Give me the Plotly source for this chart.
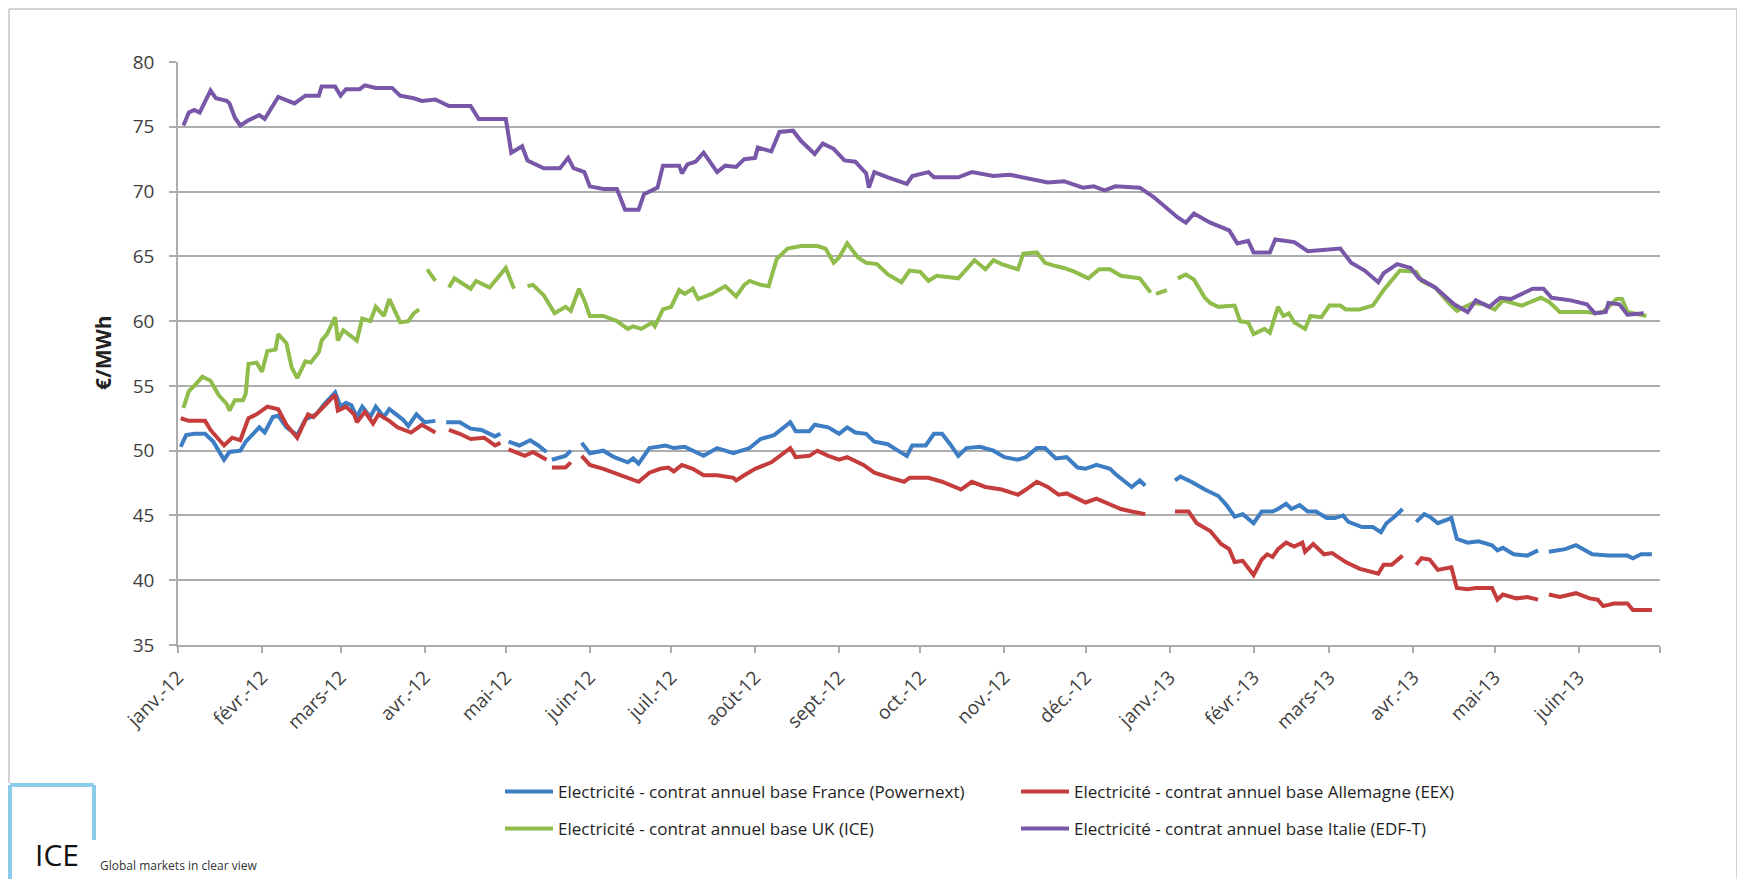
import pandas as pd
import plotly.graph_objects as go

# jours écoulés depuis le 1er janvier 2012 -> cotation en €/MWh (None = pas de cotation)
debut = pd.Timestamp('2012-01-01')

fr_jour = [1, 3, 6, 10, 13, 17, 19, 23, 25, 28, 30, 32, 35, 37, 40, 44, 47, 51, 54, 58,
           60, 62, 64, 66, 68, 71, 73, 76, 78, 83, 85, 88, 91, 95,
           97, 99, 104, 108, 112, 117, 119,
           120, 122, 126, 130, 133, 136,
           137, 138, 143, 145,
           147, 149, 152, 157, 161, 166, 168, 170, 174, 180, 183,
           187, 190, 194, 199, 205, 211, 215, 220, 226, 228,
           233, 235, 240, 244, 247, 250, 254, 257, 262, 265,
           269, 271, 276, 279, 282, 285, 288, 291, 296, 301,
           305, 310, 313, 317, 320, 324, 328, 332, 335, 339,
           344, 346, 352, 355, 357,
           362, 368, 370, 374, 379, 384, 387, 390, 393, 397,
           400, 404, 406, 409, 411, 414, 417, 420, 424, 427,
           430, 432, 437, 441, 444, 446, 449, 452,
           455, 457, 460, 462, 465, 470, 472, 476, 480, 485,
           487, 489, 493, 498, 502,
           504, 506, 512, 516, 522, 528, 535, 537, 540, 544]
fr_prix = [50.3, 51.2, 51.3, 51.3, 50.7, 49.3, 49.9, 50.0, 50.7, 51.3, 51.8, 51.4, 52.6, 52.7, 51.8, 51.2, 52.4, 52.8, 53.6, 54.5,
           53.4, 53.7, 53.5, 52.6, 53.4, 52.6, 53.4, 52.6, 53.2, 52.4, 51.9, 52.8, 52.2, 52.3,
           None, 52.2, 52.2, 51.7, 51.6, 51.1, 51.3,
           None, 50.7, 50.4, 50.8, 50.4, 49.9,
           None, 49.3, 49.6, 50.0,
           None, 50.6, 49.8, 50.0, 49.5, 49.1, 49.4, 49.0, 50.2, 50.4, 50.2,
           50.3, 50.0, 49.6, 50.2, 49.8, 50.2, 50.9, 51.2, 52.2, 51.5,
           51.5, 52.0, 51.8, 51.3, 51.8, 51.4, 51.3, 50.7, 50.5, 50.1,
           49.6, 50.4, 50.4, 51.3, 51.3, 50.5, 49.6, 50.2, 50.3, 50.0,
           49.5, 49.3, 49.5, 50.2, 50.2, 49.4, 49.5, 48.7, 48.6, 48.9,
           48.6, 48.2, 47.2, 47.7, 47.3,
           None, 47.7, 48.0, 47.6, 47.0, 46.5, 45.8, 44.9, 45.1, 44.4,
           45.3, 45.3, 45.5, 45.9, 45.5, 45.8, 45.3, 45.3, 44.8, 44.8,
           45.0, 44.5, 44.1, 44.1, 43.7, 44.4, 44.9, 45.5,
           None, 44.5, 45.1, 44.9, 44.4, 44.8, 43.2, 42.9, 43.0, 42.7,
           42.3, 42.5, 42.0, 41.9, 42.3,
           None, 42.2, 42.4, 42.7, 42.0, 41.9, 41.9, 41.7, 42.0, 42.0]

de_jour = [1, 4, 10, 12, 17, 20, 23, 26, 29, 33,
           37, 40, 44, 48, 50, 54, 58, 59, 62, 65,
           66, 69, 72, 74, 78, 81, 86, 90, 95,
           97, 100, 104, 108, 113, 117, 119,
           120, 122, 128, 131, 136,
           137, 138, 143, 145,
           147, 149, 152, 157, 161, 166, 170, 174, 178, 181,
           183, 186, 190, 194, 199, 205, 206, 209, 213, 219,
           226, 228, 233, 236, 240, 244, 247, 253, 257, 263,
           268, 270, 277, 282, 289, 293, 298, 304, 310, 313,
           317, 321, 325, 328, 332, 335, 339, 344, 348, 352, 357,
           362, 368, 373, 376, 381, 385, 388, 390, 393, 397,
           400, 402, 404, 406, 409, 412, 415, 416, 419, 423,
           426, 431, 436, 443, 445, 448, 452,
           455, 457, 459, 462, 465, 470, 472, 476, 479, 485,
           487, 489, 494, 498, 502,
           504, 506, 510, 516, 521, 524, 526, 530, 535, 537, 544]
de_prix = [52.5, 52.3, 52.3, 51.6, 50.4, 51.0, 50.8, 52.5, 52.8, 53.4,
           53.2, 52.0, 51.0, 52.8, 52.6, 53.5, 54.3, 53.1, 53.4, 52.8,
           52.2, 53.0, 52.1, 52.8, 52.3, 51.8, 51.4, 52.0, 51.4,
           None, 51.6, 51.3, 50.9, 51.0, 50.4, 50.6,
           None, 50.1, 49.6, 49.9, 49.3,
           None, 48.7, 48.7, 49.1,
           None, 49.6, 48.9, 48.6, 48.3, 47.9, 47.6, 48.3, 48.6, 48.7,
           48.4, 48.9, 48.6, 48.1, 48.1, 47.9, 47.7, 48.1, 48.6, 49.1,
           50.2, 49.5, 49.6, 50.0, 49.6, 49.3, 49.5, 48.9, 48.3, 47.9,
           47.6, 47.9, 47.9, 47.6, 47.0, 47.6, 47.2, 47.0, 46.6, 47.0,
           47.6, 47.2, 46.6, 46.7, 46.3, 46.0, 46.3, 45.9, 45.5, 45.3, 45.1,
           None, 45.3, 45.3, 44.4, 43.8, 42.8, 42.4, 41.4, 41.5, 40.4,
           41.6, 42.0, 41.8, 42.4, 42.9, 42.6, 42.9, 42.2, 42.8, 42.0,
           42.1, 41.4, 40.9, 40.5, 41.2, 41.2, 41.9,
           None, 41.2, 41.7, 41.6, 40.8, 41.0, 39.4, 39.3, 39.4, 39.4,
           38.5, 38.9, 38.6, 38.7, 38.5,
           None, 38.9, 38.7, 39.0, 38.6, 38.5, 38.0, 38.2, 38.2, 37.7, 37.7]

uk_jour = [2, 4, 6, 9, 12, 15, 18, 19, 21, 24,
           25, 26, 29, 31, 33, 36, 37, 40, 42, 44,
           47, 49, 52, 53, 55, 58, 59, 61, 66, 68,
           71, 73, 76, 78, 82, 85, 87, 89,
           91, 92, 95,
           97, 100, 102, 105, 108, 110, 113, 115, 117, 121, 124,
           126, 129, 131, 135, 139, 143, 145, 148, 150, 152, 157,
           162, 166, 168, 171, 175, 176, 179, 182, 185, 187,
           190, 192, 197, 202, 206, 209, 211, 215, 218, 221,
           225, 230, 236, 239, 242, 244, 247, 251, 254, 258,
           262, 267, 270, 274, 277, 280, 284, 288, 294, 298,
           301, 304, 310, 312, 317, 320, 323, 327, 331, 336,
           340, 344, 348, 351, 355, 359,
           360, 361, 365,
           367, 369, 372, 375, 379, 381, 384, 390, 392, 395,
           397, 401, 403, 406, 408, 410, 412, 416, 418, 422,
           425, 429, 431, 436, 441, 445, 449, 451, 457, 459,
           464, 469, 472, 478, 482, 486, 489, 496, 503, 506,
           510, 515, 520, 523, 526, 531, 533, 535, 542]
uk_prix = [53.3, 54.6, 55.0, 55.7, 55.4, 54.3, 53.6, 53.1, 53.9, 53.9,
           54.4, 56.7, 56.8, 56.1, 57.7, 57.8, 59.0, 58.3, 56.4, 55.6,
           56.9, 56.8, 57.6, 58.5, 59.0, 60.3, 58.5, 59.3, 58.5, 60.2,
           60.0, 61.1, 60.4, 61.7, 59.9, 60.0, 60.6, 60.9,
           None, 64.0, 63.1,
           None, 62.6, 63.3, 62.9, 62.5, 63.1, 62.8, 62.6, 63.1, 64.1, 62.5,
           None, 62.7, 62.8, 62.0, 60.6, 61.1, 60.8, 62.5, 61.6, 60.4, 60.4,
           60.0, 59.4, 59.6, 59.4, 59.9, 59.6, 60.9, 61.1, 62.4, 62.1,
           62.5, 61.7, 62.1, 62.7, 61.9, 62.8, 63.1, 62.8, 62.7, 64.8,
           65.6, 65.8, 65.8, 65.6, 64.5, 64.9, 66.0, 64.9, 64.5, 64.4,
           63.6, 63.0, 63.9, 63.8, 63.1, 63.5, 63.4, 63.3, 64.7, 64.0,
           64.7, 64.4, 64.0, 65.2, 65.3, 64.5, 64.3, 64.1, 63.8, 63.3,
           64.0, 64.0, 63.5, 63.4, 63.3, 62.2,
           None, 62.1, 62.4,
           None, 63.3, 63.6, 63.2, 61.8, 61.4, 61.1, 61.2, 60.0, 59.9,
           59.0, 59.4, 59.1, 61.1, 60.4, 60.6, 59.9, 59.4, 60.4, 60.3,
           61.2, 61.2, 60.9, 60.9, 61.2, 62.4, 63.4, 63.9, 63.8, 63.1,
           62.6, 61.4, 60.8, 61.4, 61.3, 60.9, 61.6, 61.2, 61.8, 61.5,
           60.7, 60.7, 60.7, 60.6, 60.7, 61.7, 61.7, 60.7, 60.4]

it_jour = [2, 4, 6, 8, 12, 14, 18, 19, 21, 23,
           26, 30, 32, 37, 43, 47, 52, 53, 58, 60,
           62, 67, 69, 73, 79, 82, 87, 90, 95, 100,
           108, 111, 121, 123, 127, 129, 135, 141, 144, 146,
           150, 152, 157, 162, 165, 170, 172, 177, 179, 185,
           186, 188, 191, 194, 199, 202, 206, 209, 213, 214,
           219, 222, 227, 230, 235, 238, 242, 246, 250, 254,
           255, 257, 262, 269, 271, 277, 279, 288, 293, 301,
           307, 312, 321, 327, 334, 338, 342, 346, 355, 360,
           369, 372, 375, 381, 388, 391, 395, 397, 403, 405,
           412, 417, 429, 433, 438, 443, 445, 450, 455, 458,
           464, 471, 476, 479, 484, 488, 492, 500, 504, 507,
           514, 520, 523, 527, 528, 532, 535, 541]
it_prix = [75.1, 76.1, 76.3, 76.1, 77.8, 77.2, 77.0, 76.8, 75.7, 75.1,
           75.5, 75.9, 75.6, 77.3, 76.8, 77.4, 77.4, 78.1, 78.1, 77.4,
           77.9, 77.9, 78.2, 78.0, 78.0, 77.4, 77.2, 77.0, 77.1, 76.6,
           76.6, 75.6, 75.6, 73.0, 73.5, 72.4, 71.8, 71.8, 72.6, 71.8,
           71.5, 70.4, 70.2, 70.2, 68.6, 68.6, 69.8, 70.3, 72.0, 72.0,
           71.4, 72.1, 72.3, 73.0, 71.5, 72.0, 71.9, 72.5, 72.6, 73.4,
           73.1, 74.6, 74.7, 73.9, 72.9, 73.7, 73.3, 72.4, 72.3, 71.4,
           70.3, 71.5, 71.1, 70.6, 71.2, 71.5, 71.1, 71.1, 71.5, 71.2,
           71.3, 71.1, 70.7, 70.8, 70.3, 70.4, 70.1, 70.4, 70.3, 69.6,
           68.0, 67.6, 68.3, 67.6, 67.0, 66.0, 66.2, 65.3, 65.3, 66.3,
           66.1, 65.4, 65.6, 64.5, 63.9, 63.0, 63.7, 64.4, 64.1, 63.3,
           62.6, 61.3, 60.7, 61.6, 61.1, 61.8, 61.7, 62.5, 62.5, 61.8,
           61.6, 61.3, 60.6, 60.7, 61.4, 61.3, 60.5, 60.6]

mois = pd.date_range('2012-01-01', '2013-07-01', freq='MS')
mois_txt = ['janv.-12', 'févr.-12', 'mars-12', 'avr.-12', 'mai-12', 'juin-12', 'juil.-12',
            'août-12', 'sept.-12', 'oct.-12', 'nov.-12', 'déc.-12', 'janv.-13', 'févr.-13',
            'mars-13', 'avr.-13', 'mai-13', 'juin-13', '']

series = [
    ("Electricité - contrat annuel base France (Powernext)", fr_jour, fr_prix, '#3D7DC3', 'legend'),
    ("Electricité - contrat annuel base Allemagne (EEX)", de_jour, de_prix, '#C43C3C', 'legend'),
    ("Electricité - contrat annuel base UK (ICE)", uk_jour, uk_prix, '#8FBC4A', 'legend2'),
    ("Electricité - contrat annuel base Italie (EDF-T)", it_jour, it_prix, '#7857A8', 'legend2'),
]

# la page ajoute une marge de 8 px autour de la figure
OFF = 8
W, H = 1745 - OFF, 879 - OFF
L, R, T, B = 178 - OFF, 85, 62 - OFF, 234


def px(x):
    # position horizontale dans la page -> coordonnée papier
    return (x - OFF - L) / (W - L - R)


def py(y):
    # position verticale dans la page -> coordonnée papier
    return (H - B - (y - OFF)) / (H - T - B)


fig = go.Figure()

for nom, jours, prix, couleur, leg in series:
    assert len(jours) == len(prix), nom
    dates = debut + pd.to_timedelta(jours, unit='D')
    fig.add_trace(go.Scatter(x=dates, y=prix, name=nom, mode='lines',
                             line=dict(color=couleur, width=4),
                             connectgaps=False, legend=leg))

grid = '#ADADAD'
leg_font = dict(size=17, color='#1E1E1E')
fig.update_layout(
    width=W, height=H,
    margin=dict(l=L, r=R, t=T, b=B, autoexpand=False),
    paper_bgcolor='white', plot_bgcolor='white',
    font=dict(family='Open Sans', color='#333333'),
    xaxis=dict(range=[mois[0], mois[-1]], tickvals=mois, ticktext=mois_txt,
               tickangle=-45, tickfont=dict(size=19, color='#404040'),
               showgrid=False, showline=True, linecolor=grid, linewidth=1.5,
               ticks='outside', ticklen=6, tickcolor=grid, tickwidth=1.5,
               ticklabelstandoff=6),
    yaxis=dict(range=[35, 80], tickvals=list(range(35, 81, 5)),
               tickfont=dict(size=19, color='#404040'),
               showgrid=True, gridcolor=grid, gridwidth=1.5,
               showline=True, linecolor=grid, linewidth=1.5, zeroline=False,
               ticks='outside', ticklen=7, tickcolor=grid, tickwidth=1.5,
               ticklabelstandoff=11),
    legend=dict(orientation='h', x=px(500), xanchor='left', y=py(792), yanchor='middle',
                entrywidth=453, entrywidthmode='pixels', itemwidth=48,
                font=leg_font, bgcolor='rgba(0,0,0,0)'),
    legend2=dict(orientation='h', x=px(500), xanchor='left', y=py(829), yanchor='middle',
                 entrywidth=453, entrywidthmode='pixels', itemwidth=48,
                 font=leg_font, bgcolor='rgba(0,0,0,0)'),
    showlegend=True,
)

# cadre du graphique
cadre = '#C4C4C4'
for x0, y0, x1, y1 in [(9, 9, 1737, 9), (1737, 9, 1737, 890), (9, 9, 9, 783)]:
    fig.add_shape(type='line', xref='paper', yref='paper',
                  x0=px(x0), y0=py(y0), x1=px(x1), y1=py(y1),
                  line=dict(color=cadre, width=1.5))

# logo ICE
bleu_logo = '#8ACDEA'
for x0, y0, x1, y1 in [(10, 785, 94, 785), (94, 785, 94, 840), (10, 785, 10, 890)]:
    fig.add_shape(type='line', xref='paper', yref='paper',
                  x0=px(x0), y0=py(y0), x1=px(x1), y1=py(y1),
                  line=dict(color=bleu_logo, width=4))

fig.add_annotation(text='ICE', xref='paper', yref='paper', x=px(33), y=py(877),
                   xanchor='left', yanchor='bottom', showarrow=False,
                   font=dict(family='Open Sans', size=30, color='#111111'))
fig.add_annotation(text='Global markets in clear view', xref='paper', yref='paper',
                   x=px(98), y=py(865), xanchor='left', yanchor='middle', showarrow=False,
                   font=dict(family='Open Sans', size=12, color='#333333'))

# titre de l'axe vertical
fig.add_annotation(text='<b>€/MWh</b>', xref='paper', yref='paper', x=px(103), y=py(353),
                   xanchor='center', yanchor='middle', textangle=-90, showarrow=False,
                   font=dict(family='Open Sans', size=21, color='#222222'))

fig.write_html("out.html")
